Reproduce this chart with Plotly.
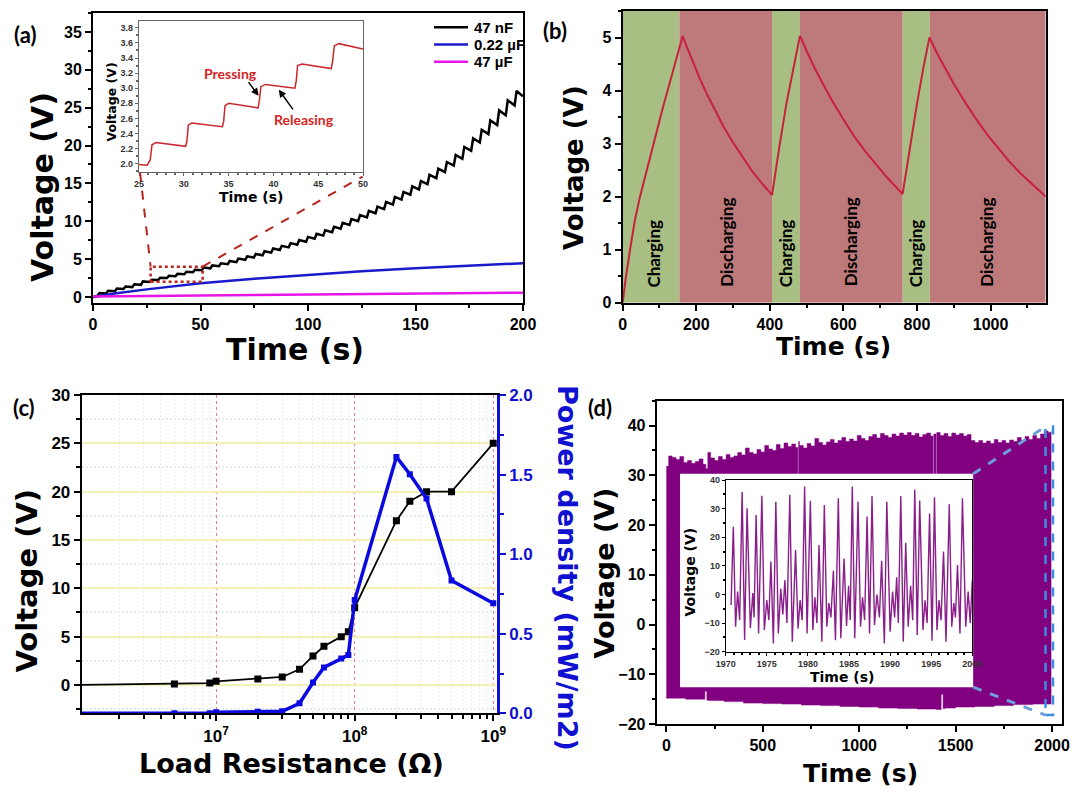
import plotly.graph_objects as go

W, H = 1085, 792
OFF = 8  # page body margin of the html page

# ================= DATA =================
# (a) 47 nF charging curve: jump times, voltage just before each jump, voltage just after
jump_t_47nF = [2.1, 6.1, 10.2, 14.2, 18.3, 22.3, 26.4, 30.3, 34.4, 38.4, 42.5, 46.5, 50.6, 54.6,
               58.6, 62.7, 66.7, 70.8, 74.8, 78.9, 82.9, 86.9, 91.0, 95.0, 99.1, 103.1, 107.1,
               111.2, 115.2, 119.3, 123.3, 127.4, 131.4, 135.4, 139.5, 143.5, 147.6, 151.6,
               155.6, 159.7, 163.7, 167.8, 171.8, 175.9, 179.9, 183.9, 188.0, 192.0, 196.1]
v_before_47nF = [0.15, 0.45, 0.75, 1.05, 1.30, 1.60, 1.98, 2.23, 2.49, 2.74, 3.00, 3.26, 3.52,
                 3.78, 4.05, 4.32, 4.60, 4.90, 5.20, 5.50, 5.85, 6.20, 6.55, 6.90, 7.30, 7.70,
                 8.10, 8.55, 9.00, 9.50, 10.00, 10.50, 11.05, 11.60, 12.20, 12.85, 13.50, 14.20,
                 14.90, 15.70, 16.50, 17.35, 18.25, 19.30, 20.40, 21.50, 22.70, 24.00, 25.30]
v_after_47nF = [0.50, 0.81, 1.12, 1.37, 1.68, 2.05, 2.28, 2.54, 2.80, 3.05, 3.32, 3.59, 3.88,
                4.16, 4.45, 4.76, 5.06, 5.37, 5.68, 6.04, 6.40, 6.75, 7.11, 7.52, 7.93, 8.34,
                8.80, 9.27, 9.78, 10.29, 10.80, 11.37, 11.93, 12.55, 13.21, 13.88, 14.60, 15.31,
                16.13, 16.95, 17.82, 18.75, 19.82, 20.95, 22.08, 23.31, 24.64, 25.97, 27.20]
t_end_47nF, v_end_47nF = 200.0, 26.5

t_022uF = [0, 10, 25, 50, 75, 100, 125, 150, 175, 200]
v_022uF = [0, 0.45, 1.0, 1.8, 2.4, 2.95, 3.4, 3.8, 4.15, 4.45]
t_47uF = [0, 50, 100, 150, 200]
v_47uF = [0.05, 0.18, 0.30, 0.43, 0.57]
legend_names = ["47 nF", "0.22 \u00b5F", "47 \u00b5F"]
legend_colors = ["black", "#1a1acc", "#e815e8"]

inset_a_t = [25.0, 25.9, 26.25, 26.45, 26.9, 30.2, 30.35, 30.5, 30.9, 34.3, 34.45, 34.6, 35.0,
             38.3, 38.45, 38.6, 39.1, 42.4, 42.55, 42.7, 43.2, 46.45, 46.6, 46.8, 47.3, 50.0]
inset_a_v = [1.99, 1.98, 2.05, 2.25, 2.28, 2.23, 2.30, 2.51, 2.54, 2.49, 2.56, 2.77, 2.80,
             2.74, 2.85, 3.02, 3.05, 3.00, 3.10, 3.30, 3.32, 3.26, 3.35, 3.56, 3.59, 3.52]

# (b) charge / discharge cycles
t_b = [0, 8, 20, 33, 47, 80, 110, 140, 163, 175, 190, 210, 230, 250, 275, 300, 325, 350, 375, 406,
       425, 445, 465, 482, 500, 520, 545, 570, 600, 630, 660, 690, 720, 761,
       780, 800, 818, 834, 855, 875, 900, 930, 960, 990, 1020, 1050, 1080, 1110, 1150]
v_b = [0, 0.45, 1.0, 1.55, 2.0, 2.9, 3.7, 4.45, 5.03, 4.81, 4.55, 4.22, 3.92, 3.64, 3.31, 3.02,
       2.75, 2.50, 2.28, 2.03, 2.9, 3.75, 4.45, 5.03, 4.75, 4.45, 4.12, 3.80, 3.46, 3.13, 2.85,
       2.59, 2.35, 2.05, 2.9, 3.75, 4.45, 5.0, 4.70, 4.44, 4.13, 3.79, 3.47, 3.18, 2.92, 2.67,
       2.45, 2.25, 2.0]
charge_start = [0, 406, 761]
charge_end = [154, 482, 835]
discharge_start = [154, 482, 835]
discharge_end = [406, 761, 1150]
charge_label_t = [83, 441, 797]
discharge_label_t = [282, 618, 989]

# (c) load resistance sweep
R_load = [1e6, 5e6, 9e6, 1e7, 2e7, 3e7, 4e7, 5e7, 6e7, 8e7, 9e7, 1e8, 2e8, 2.5e8, 3.3e8, 5e8, 1e9]
V_load = [0, 0.1, 0.2, 0.38, 0.62, 0.83, 1.62, 3.0, 4.0, 5.0, 5.5, 8.0, 17.0, 19.0, 20.0, 20.0, 25.0]
P_density = [0, 0.0, 0.0, 0.006, 0.01, 0.013, 0.063, 0.193, 0.288, 0.345, 0.366, 0.712, 1.611,
             1.502, 1.349, 0.834, 0.691]

# (d) long-term output: envelope of the dense signal
t_env_up = [0, 12, 30, 50, 70, 90, 110, 130, 150, 170, 190, 205, 215, 230, 250, 270, 290, 310,
            330, 350, 370, 390, 410, 430, 450, 470, 490, 510, 530, 550, 570, 590, 610, 630, 650,
            670, 682, 686, 690, 710, 730, 750, 770, 790, 810, 830, 850, 870, 890, 910, 930, 950,
            970, 990, 1010, 1030, 1050, 1070, 1090, 1110, 1130, 1150, 1170, 1190, 1210, 1230,
            1250, 1270, 1290, 1310, 1330, 1350, 1370, 1383, 1387, 1398, 1402, 1420, 1440, 1460,
            1480, 1500, 1520, 1540, 1560, 1580, 1600, 1620, 1640, 1660, 1680, 1700, 1720, 1740,
            1760, 1780, 1800, 1820, 1840, 1860, 1880, 1900, 1920, 1940, 1960, 1980, 1995]
v_env_up = [31.8, 33.9, 33.6, 33.2, 33.8, 32.6, 33.0, 32.4, 32.8, 33.3, 32.2, 31.3, 34.6, 33.5,
            33.0, 33.8, 33.2, 34.2, 33.6, 33.9, 34.6, 34.1, 35.5, 34.6, 34.3, 35.2, 34.7, 36.0,
            35.3, 35.0, 36.2, 35.4, 36.5, 35.8, 36.3, 35.6, 30.0, 36.8, 36.0, 35.5, 36.4, 35.9,
            37.4, 36.6, 36.1, 36.7, 37.2, 36.5, 37.0, 37.6, 36.8, 37.3, 36.9, 38.0, 37.4, 37.0,
            37.8, 38.2, 37.5, 38.4, 38.0, 37.6, 38.3, 37.9, 38.5, 38.1, 38.6, 38.0, 38.4, 37.7,
            38.2, 38.5, 37.9, 30.0, 38.3, 30.0, 38.6, 38.0, 38.4, 37.8, 38.5, 38.1, 38.4, 37.9,
            38.2, 37.0, 36.6, 37.0, 36.5, 36.9, 36.4, 37.2, 36.6, 37.0, 36.5, 37.1, 36.8, 37.6,
            37.0, 37.8, 37.2, 38.0, 37.4, 38.3, 38.9, 38.6, 38.8]
t_env_lo = [0, 100, 200, 210, 220, 300, 400, 500, 600, 700, 800, 900, 1000, 1100, 1200, 1300,
            1400, 1425, 1435, 1445, 1500, 1600, 1700, 1800, 1900, 1995]
v_env_lo = [-14.6, -14.8, -15.0, -13.4, -15.2, -15.3, -15.5, -15.8, -15.9, -16.0, -16.2, -16.3,
            -16.5, -16.6, -16.8, -16.9, -17.0, -17.1, -14.0, -16.9, -16.8, -16.6, -16.5, -16.3,
            -16.1, -16.0]

inset_d_t = [1970.65, 1970.93, 1971.2, 1971.45, 1971.7, 1972.0, 1972.3, 1972.6, 1973.0, 1973.3,
             1973.45, 1973.7, 1974.0, 1974.4, 1974.7, 1975.0, 1975.25, 1975.5, 1975.8, 1976.1,
             1976.4, 1976.7, 1976.95, 1977.2, 1977.45, 1977.8, 1978.1, 1978.5, 1978.8, 1979.05,
             1979.3, 1979.6, 1979.9, 1980.3, 1980.6, 1980.85, 1981.1, 1981.35, 1981.7, 1982.0,
             1982.3, 1982.55, 1982.8, 1983.1, 1983.35, 1983.7, 1984.0, 1984.4, 1984.7, 1984.95,
             1985.15, 1985.4, 1985.7, 1986.1, 1986.4, 1986.65, 1986.9, 1987.2, 1987.5, 1987.8,
             1988.1, 1988.4, 1988.7, 1988.97, 1989.3, 1989.6, 1990.0, 1990.3, 1990.55, 1990.8,
             1991.0, 1991.3, 1991.6, 1991.9, 1992.2, 1992.5, 1992.75, 1993.0, 1993.3, 1993.6,
             1994.0, 1994.25, 1994.5, 1994.8, 1995.1, 1995.4, 1995.7, 1995.95, 1996.2, 1996.5,
             1996.8, 1997.2, 1997.5, 1997.75, 1997.95, 1998.2, 1998.5, 1998.8, 1999.2, 1999.5,
             1999.75, 2000.0]
inset_d_v = [-3.7, 23.7, -11.3, 1.0, -9.0, 35.9, -15.9, 30.1, -11.8, 0.5, -8.0, 27.8, -13.6,
             34.5, -12.4, -2.0, -9.0, 11.5, -17.1, 32.4, -13.6, 2.0, -7.0, 5.0, -10.0, 34.8,
             -16.5, 15.5, -12.0, -2.0, -9.0, 37.7, -13.6, 32.7, -12.4, -1.0, -10.0, 17.3, -16.5,
             31.3, -11.3, -3.0, -8.0, 8.3, -16.0, 33.6, -15.3, 12.6, -11.0, 3.0, -9.0, 37.7,
             -15.3, 32.4, -11.3, -1.0, -9.0, 27.2, -13.6, 34.4, -10.7, 0.0, -8.0, 11.8, -17.1,
             32.4, -13.0, 1.0, -8.0, 6.0, -10.0, 34.4, -16.5, 18.1, -11.3, 3.0, -9.0, 36.7,
             -14.2, 32.8, -12.4, -2.0, -10.0, 28.3, -16.2, 34.0, -12.4, -2.0, -9.0, 15.0, -16.5,
             31.5, -11.3, -3.0, -8.0, 10.3, -13.6, 33.6, -11.3, 1.0, -10.0, 5.0]

# ================= STYLE =================
TITLE_F = "DejaVu Sans"
TICK_F = "Liberation Sans"
LBL_F = "Lato"
JUMP_RISE = 0.9
PURPLE = "#800080"
RED_A = "#c8282d"
BLUE_AX = "#1010d0"


def fx(p):
    return (p - OFF) / W


def fy(p):
    return 1 - (p - OFF) / H


def dom_x(a, b):
    return [fx(a), fx(b)]


def dom_y(top, bottom):
    return [fy(bottom), fy(top)]


def axis(**kw):
    base = dict(showgrid=False, zeroline=False, showline=True, linecolor="black", linewidth=2,
                mirror=True, ticks="outside", tickcolor="black", tickwidth=2, ticklen=6,
                tickfont=dict(family=TICK_F, size=16, color="black", weight="bold"))
    base.update(kw)
    return base


def minor(dt, ln=3, color="black", **kw):
    d = dict(ticks="outside", ticklen=ln, tickcolor=color, tickwidth=1.5, dtick=dt, showgrid=False)
    d.update(kw)
    return d


fig = go.Figure()

# ---------- (a) main ----------
xa, ya = [0.0], [0.0]
for t, lo, hi in zip(jump_t_47nF, v_before_47nF, v_after_47nF):
    xa += [t, t + JUMP_RISE]
    ya += [lo, hi]
xa.append(t_end_47nF)
ya.append(v_end_47nF)

fig.add_trace(go.Scatter(x=xa, y=ya, mode="lines", name=legend_names[0],
                         line=dict(color=legend_colors[0], width=2.5), xaxis="x", yaxis="y"))
fig.add_trace(go.Scatter(x=t_022uF, y=v_022uF, mode="lines", name=legend_names[1],
                         line=dict(color=legend_colors[1], width=2.5), xaxis="x", yaxis="y"))
fig.add_trace(go.Scatter(x=t_47uF, y=v_47uF, mode="lines", name=legend_names[2],
                         line=dict(color=legend_colors[2], width=2.5), xaxis="x", yaxis="y"))
# (a) inset
fig.add_trace(go.Scatter(x=inset_a_t, y=inset_a_v, mode="lines",
                         line=dict(color=RED_A, width=1.5), xaxis="x2", yaxis="y2"))

# ---------- (b) ----------
fig.add_trace(go.Scatter(x=t_b, y=v_b, mode="lines",
                         line=dict(color="#c8203f", width=2), xaxis="x3", yaxis="y3"))

# ---------- (c) ----------
fig.add_trace(go.Scatter(x=R_load, y=V_load, mode="lines+markers",
                         line=dict(color="black", width=1.8),
                         marker=dict(symbol="square", size=7, color="black"),
                         xaxis="x4", yaxis="y4"))
fig.add_trace(go.Scatter(x=R_load, y=P_density, mode="lines+markers",
                         line=dict(color="#0a0ae0", width=3.5),
                         marker=dict(symbol="square", size=6, color="#0a0ae0"),
                         xaxis="x4", yaxis="y5"))

# ---------- (d) ----------
fig.add_trace(go.Scatter(x=t_env_up + t_env_lo[::-1], y=v_env_up + v_env_lo[::-1], mode="lines",
                         fill="toself", fillcolor=PURPLE, line=dict(color=PURPLE, width=0.5, shape="hv"),
                         xaxis="x6", yaxis="y6"))
# white backdrop of the inset (decoration)
BOX_D = dict(t0=71, t1=1591, v0=-12.6, v1=30.3)
fig.add_trace(go.Scatter(x=[BOX_D["t0"], BOX_D["t1"], BOX_D["t1"], BOX_D["t0"], BOX_D["t0"]],
                         y=[BOX_D["v1"], BOX_D["v1"], BOX_D["v0"], BOX_D["v0"], BOX_D["v1"]],
                         mode="lines", fill="toself", fillcolor="white", line=dict(width=0, color="white"),
                         hoverinfo="skip", xaxis="x6", yaxis="y6"))
fig.add_trace(go.Scatter(x=inset_d_t, y=inset_d_v, mode="lines",
                         line=dict(color="#8a1e8a", width=1.4), xaxis="x7", yaxis="y7"))

# ================= LAYOUT =================
layout = dict(
    width=W, height=H, autosize=False, margin=dict(l=0, r=0, t=0, b=0),
    paper_bgcolor="white", plot_bgcolor="white", template="none",
    showlegend=False,
)

# (a)
layout["xaxis"] = axis(domain=dom_x(93, 523), range=[0, 200], dtick=50, minor=minor(25), anchor="y")
layout["yaxis"] = axis(domain=dom_y(13, 303), range=[-0.8, 37.5], dtick=5, minor=minor(2.5), anchor="x")
# (a) inset
inset_tick = dict(family=TICK_F, size=9, color="#333", weight="bold")
layout["xaxis2"] = axis(domain=dom_x(139, 363), range=[25, 50], dtick=5, linecolor="#666", linewidth=1.2,
                        tickcolor="#666", tickwidth=1, ticklen=3, tickfont=inset_tick,
                        minor=minor(1, 2, "#666"), anchor="y2")
layout["yaxis2"] = axis(domain=dom_y(21, 172), range=[1.89, 3.89], dtick=0.2, tickformat=".1f",
                        linecolor="#666", linewidth=1.2, tickcolor="#666", tickwidth=1, ticklen=3,
                        tickfont=inset_tick, minor=minor(0.1, 2, "#666"), anchor="x2")
# (b)
layout["xaxis3"] = axis(domain=dom_x(622.7, 1045.7), range=[0, 1150], dtick=200, minor=minor(100), anchor="y3")
layout["yaxis3"] = axis(domain=dom_y(11, 302.7), range=[0, 5.5], dtick=1, minor=minor(0.5), anchor="x3")
# (c)
minor_R = [m * 10 ** e for e in (6, 7, 8) for m in range(2, 10)]
FAINT = "#e6ecf4"
layout["xaxis4"] = axis(domain=dom_x(81.7, 497), type="log", range=[6.03, 9.027],
                        tickvals=[1e7, 1e8, 1e9], ticktext=["10<sup>7</sup>", "10<sup>8</sup>", "10<sup>9</sup>"],
                        tickfont=dict(family=TICK_F, size=17, color="black", weight="bold"),
                        showgrid=True, gridcolor="#f08080", griddash="dot", gridwidth=1,
                        minor=dict(tickmode="array", tickvals=minor_R, ticks="outside", ticklen=4,
                                   tickcolor="black", tickwidth=1.5, showgrid=True,
                                   gridcolor=FAINT, griddash="2px,2px", gridwidth=1),
                        mirror=True, anchor="y4")
layout["yaxis4"] = axis(domain=dom_y(395, 713.3), range=[-2.93, 30], dtick=5, mirror=False,
                        tickfont=dict(family=TICK_F, size=17, color="black", weight="bold"),
                        showgrid=True, gridcolor="#f3f0b4", gridwidth=1.6,
                        minor=minor(2.5, 4, showgrid=True, gridcolor=FAINT, griddash="2px,2px"),
                        anchor="x4")
layout["yaxis5"] = axis(overlaying="y4", side="right", range=[0, 2.0], dtick=0.5, tickformat=".1f",
                        linecolor=BLUE_AX, linewidth=2.5, tickcolor=BLUE_AX, mirror=False,
                        tickfont=dict(family=TICK_F, size=17, color=BLUE_AX, weight="bold"),
                        minor=minor(0.25, 4, BLUE_AX), anchor="x4")
# (d)
layout["xaxis6"] = axis(domain=dom_x(656.7, 1061.7), range=[-50, 2050], dtick=500, minor=minor(250), anchor="y6")
layout["yaxis6"] = axis(domain=dom_y(400.7, 724), range=[-20, 45], dtick=10, minor=minor(5), anchor="x6")
# (d) inset
layout["xaxis7"] = axis(domain=dom_x(725.7, 972.3), range=[1970, 2000], dtick=5, linewidth=1,
                        tickwidth=1, ticklen=3, tickfont=inset_tick, minor=minor(1, 2), anchor="y7")
layout["yaxis7"] = axis(domain=dom_y(480, 651.7), range=[-20, 40], dtick=10, linewidth=1,
                        tickwidth=1, ticklen=3, tickfont=inset_tick, minor=minor(5, 2), anchor="x7")

# ---------- shapes ----------
shapes = []
for s, e in zip(charge_start, charge_end):
    shapes.append(dict(type="rect", xref="x3", yref="y3", x0=s, x1=e, y0=0, y1=5.5, layer="below",
                       fillcolor="#a8be82", line=dict(width=0)))
for s, e in zip(discharge_start, discharge_end):
    shapes.append(dict(type="rect", xref="x3", yref="y3", x0=s, x1=e, y0=0, y1=5.5, layer="below",
                       fillcolor="#be7a7a", line=dict(width=0)))
# (a) zoom marker
ZR = "#b5261e"
shapes.append(dict(type="rect", xref="x", yref="y", x0=26.8, x1=51, y0=2.0, y1=4.0, layer="above",
                   line=dict(color=ZR, width=2.5, dash="dot")))
shapes.append(dict(type="line", xref="x", yref="y", x0=21.9, y0=16.4, x1=26.8, y1=4.0, layer="above",
                   line=dict(color=ZR, width=2, dash="dash")))
shapes.append(dict(type="line", xref="x", yref="y", x0=51, y0=4.0, x1=125.4, y1=15.9, layer="above",
                   line=dict(color=ZR, width=2, dash="dash")))
# (d) zoom marker
ZB = "#3b8ede"
shapes.append(dict(type="rect", xref="x6", yref="y6", x0=1966, x1=2005, y0=-18.2, y1=39.8, layer="above",
                   line=dict(color=ZB, width=2.5, dash="dash")))
shapes.append(dict(type="line", xref="x6", yref="y6", x0=BOX_D["t1"], y0=BOX_D["v1"], x1=1966, y1=39.8,
                   layer="above", line=dict(color="#6f9fd6", width=3, dash="dash")))
shapes.append(dict(type="line", xref="x6", yref="y6", x0=BOX_D["t1"], y0=BOX_D["v0"], x1=1966, y1=-18.2,
                   layer="above", line=dict(color="#6f9fd6", width=3, dash="dash")))

# ---------- annotations ----------
ann = []


def ptext(text, px, py, size, family=TITLE_F, color="black", angle=0, bold=True, xanchor="center"):
    ann.append(dict(text=text, x=fx(px), y=fy(py), xref="paper", yref="paper", showarrow=False,
                    xanchor=xanchor, yanchor="middle", textangle=angle,
                    font=dict(family=family, size=size, color=color, weight="bold" if bold else "normal")))


# legend of (a), drawn by hand
LEG_ROWS = [27.3, 44.5, 61.8]
for name, col, py in zip(legend_names, legend_colors, LEG_ROWS):
    shapes.append(dict(type="line", xref="paper", yref="paper", x0=fx(434), x1=fx(468), y0=fy(py), y1=fy(py),
                       line=dict(color=col, width=2.5)))
    ptext(name, 472, py, 15, family=TICK_F, xanchor="left")
layout["shapes"] = shapes

ptext("(a)", 25, 34, 22, LBL_F)
ptext("(b)", 555, 30, 22, LBL_F)
ptext("(c)", 24, 407, 22, LBL_F)
ptext("(d)", 600, 407, 22, LBL_F)

ptext("Voltage (V)", 42, 187, 30, angle=-90)
ptext("Time (s)", 295, 349, 30)
ptext("Voltage (V)", 574.5, 167.5, 26, angle=-90)
ptext("Time (s)", 834, 347, 25)
ptext("Voltage (V)", 26.5, 581, 29, angle=-90)
ptext("Load Resistance (\u03a9)", 291.5, 763, 27)
ptext("Power density (mW/m2)", 568, 568, 27, color=BLUE_AX, angle=90)
ptext("Voltage (V)", 603.5, 573, 27, angle=-90)
ptext("Time (s)", 860, 773, 25)
# inset titles
ptext("Voltage (V)", 110.5, 102, 12.5, angle=-90)
ptext("Time (s)", 251, 197, 14)
ptext("Voltage (V)", 689.5, 572, 14, angle=-90)
ptext("Time (s)", 841.5, 677, 14)

# (b) phase labels
for t in charge_label_t:
    ann.append(dict(text="Charging", x=t, y=0.93, xref="x3", yref="y3", showarrow=False, textangle=-90,
                    xanchor="center", yanchor="middle",
                    font=dict(family=LBL_F, size=17, color="black", weight="bold")))
for t in discharge_label_t:
    ann.append(dict(text="Discharging", x=t, y=1.14, xref="x3", yref="y3", showarrow=False, textangle=-90,
                    xanchor="center", yanchor="middle",
                    font=dict(family=LBL_F, size=17, color="black", weight="bold")))

# (a) inset callouts
ann.append(dict(text="", x=38.35, y=2.9, ax=37.1, ay=3.1, xref="x2", yref="y2", axref="x2", ayref="y2",
                showarrow=True, arrowhead=2, arrowsize=1, arrowwidth=1.5, arrowcolor="black"))
ann.append(dict(text="", x=40.6, y=2.98, ax=42.3, ay=2.7, xref="x2", yref="y2", axref="x2", ayref="y2",
                showarrow=True, arrowhead=2, arrowsize=1, arrowwidth=1.5, arrowcolor="black"))
ann.append(dict(text="Pressing", x=35.2, y=3.2, xref="x2", yref="y2", showarrow=False,
                font=dict(family=LBL_F, size=14, color="#d42424", weight="bold")))
ann.append(dict(text="Releasing", x=43.4, y=2.58, xref="x2", yref="y2", showarrow=False,
                font=dict(family=LBL_F, size=14, color="#d42424", weight="bold")))
layout["annotations"] = ann

fig.update_layout(**layout)
fig.write_html("out.html")
